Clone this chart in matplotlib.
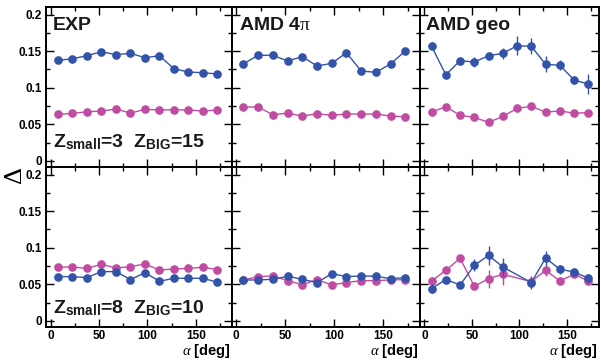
import numpy as np
import matplotlib
matplotlib.use("Agg")
import matplotlib.pyplot as plt
from matplotlib.ticker import MultipleLocator

plt.rcParams['font.family'] = ['Liberation Sans', 'DejaVu Sans']
plt.rcParams['mathtext.fontset'] = 'custom'
plt.rcParams['mathtext.rm'] = 'Liberation Serif'
plt.rcParams['mathtext.it'] = 'Liberation Serif:italic'
plt.rcParams['mathtext.bf'] = 'Liberation Sans:bold'

# bin centres in alpha [deg]
alpha = [7.5, 22.5, 37.5, 52.5, 67.5, 82.5, 97.5, 112.5, 127.5, 142.5, 157.5, 172.5]
alpha_geo_b = [7.5, 22.5, 37.5, 52.5, 67.5, 82.5, 112.5, 127.5, 142.5, 157.5, 172.5]

titles = ["EXP", r"AMD 4$\mathrm{\pi}$", "AMD geo"]
row_labels = [r"$\mathbf{Z}_{\mathbf{small}}$=3  $\mathbf{Z}_{\mathbf{BIG}}$=15",
              r"$\mathbf{Z}_{\mathbf{small}}$=8  $\mathbf{Z}_{\mathbf{BIG}}$=10"]

# top row: Zsmall=3, ZBIG=15
exp_t_blue = [0.1375, 0.1397, 0.1438, 0.1493, 0.1452, 0.1471, 0.1411, 0.1438, 0.126, 0.1215, 0.1205, 0.1188]
exp_t_blue_err = [0.002, 0.002, 0.002, 0.002, 0.004, 0.005, 0.004, 0.002, 0.002, 0.002, 0.002, 0.002]
exp_t_mag = [0.0636, 0.0649, 0.0671, 0.0681, 0.0708, 0.0653, 0.0704, 0.0695, 0.0699, 0.0695, 0.0681, 0.0695]
exp_t_mag_err = [0.001] * 12

amd_t_blue = [0.1329, 0.1444, 0.1444, 0.1366, 0.1425, 0.1297, 0.1334, 0.1479, 0.1229, 0.1211, 0.1325, 0.1503]
amd_t_blue_err = [0.001] * 12
amd_t_mag = [0.0736, 0.0736, 0.063, 0.0653, 0.0612, 0.0644, 0.0622, 0.064, 0.064, 0.064, 0.0612, 0.0603]
amd_t_mag_err = [0.001] * 12

geo_t_blue = [0.1567, 0.1178, 0.137, 0.1352, 0.1438, 0.1471, 0.1575, 0.1567, 0.132, 0.1307, 0.1105, 0.1051]
geo_t_blue_err = [0.002, 0.003, 0.003, 0.0064, 0.004, 0.0075, 0.013, 0.011, 0.011, 0.007, 0.006, 0.014]
geo_t_mag = [0.0667, 0.074, 0.0622, 0.0594, 0.0526, 0.0608, 0.0718, 0.0745, 0.0667, 0.0681, 0.0653, 0.0658]
geo_t_mag_err = [0.002, 0.002, 0.002, 0.002, 0.002, 0.002, 0.002, 0.002, 0.002, 0.002, 0.002, 0.003]

# bottom row: Zsmall=8, ZBIG=10
exp_b_blue = [0.0605, 0.0605, 0.0591, 0.0673, 0.0673, 0.0564, 0.0659, 0.0541, 0.0582, 0.0582, 0.0582, 0.0527]
exp_b_blue_err = [0.002, 0.002, 0.002, 0.002, 0.002, 0.004, 0.003, 0.002, 0.002, 0.002, 0.002, 0.002]
exp_b_mag = [0.0736, 0.0736, 0.0718, 0.0773, 0.0723, 0.0741, 0.0777, 0.0695, 0.0709, 0.0718, 0.0732, 0.07]
exp_b_mag_err = [0.001] * 12

amd_b_blue = [0.0559, 0.0559, 0.0568, 0.0609, 0.0568, 0.0523, 0.0645, 0.0605, 0.0614, 0.0609, 0.0577, 0.0591]
amd_b_blue_err = [0.001] * 12
amd_b_mag = [0.0559, 0.0605, 0.0614, 0.055, 0.0495, 0.0564, 0.0491, 0.0523, 0.055, 0.055, 0.0559, 0.0564]
amd_b_mag_err = [0.001] * 12

geo_b_blue = [0.0441, 0.0564, 0.0491, 0.0759, 0.0895, 0.0736, 0.0523, 0.0859, 0.0705, 0.0668, 0.0582]
geo_b_blue_err = [0.006, 0.003, 0.004, 0.008, 0.0125, 0.0125, 0.009, 0.010, 0.006, 0.003, 0.006]
geo_b_mag = [0.0545, 0.0691, 0.0855, 0.0473, 0.0577, 0.0636, 0.0536, 0.0691, 0.0545, 0.0636, 0.0545]
geo_b_mag_err = [0.002, 0.002, 0.002, 0.004, 0.0125, 0.015, 0.003, 0.008, 0.002, 0.003, 0.002]

panels = [
    [(alpha, exp_t_blue, exp_t_blue_err, exp_t_mag, exp_t_mag_err),
     (alpha, amd_t_blue, amd_t_blue_err, amd_t_mag, amd_t_mag_err),
     (alpha, geo_t_blue, geo_t_blue_err, geo_t_mag, geo_t_mag_err)],
    [(alpha, exp_b_blue, exp_b_blue_err, exp_b_mag, exp_b_mag_err),
     (alpha, amd_b_blue, amd_b_blue_err, amd_b_mag, amd_b_mag_err),
     (alpha_geo_b, geo_b_blue, geo_b_blue_err, geo_b_mag, geo_b_mag_err)],
]

BLUE = "#3353a8"
MAG = "#c04ca2"

W, H = 601, 360
fig = plt.figure(figsize=(W / 100, H / 100), dpi=100)
col_px = [(46, 232), (232, 420), (420, 599)]
row_px = [(7, 167), (167, 327)]
xlims = [(-4.8, 187.5), (-4.2, 187.5), (-4.7, 183.7)]

for r in range(2):
    for c in range(3):
        x0, x1 = col_px[c]
        y0, y1 = row_px[r]
        ax = fig.add_axes([x0 / W, 1 - y1 / H, (x1 - x0) / W, (y1 - y0) / H])
        x, b, be, m, me = panels[r][c]
        ax.errorbar(x, m, yerr=me, color=MAG, marker='o', ms=5.2, lw=1.0,
                    elinewidth=1.0, capsize=0, zorder=3)
        ax.errorbar(x, b, yerr=be, color=BLUE, marker='o', ms=5.2, lw=1.0,
                    elinewidth=1.0, capsize=0, zorder=4)
        ax.set_xlim(*xlims[c])
        ax.set_ylim(-0.0085, 0.2105)
        ax.xaxis.set_major_locator(MultipleLocator(50))
        ax.xaxis.set_minor_locator(MultipleLocator(25))
        ax.yaxis.set_major_locator(MultipleLocator(0.05))
        ax.yaxis.set_minor_locator(MultipleLocator(0.025))
        ax.tick_params(which='both', direction='in', top=True, right=True, width=1.0)
        ax.tick_params(which='major', length=5.5)
        ax.tick_params(which='minor', length=3)
        for s in ax.spines.values():
            s.set_linewidth(1.4)
        if c == 0:
            ax.set_yticklabels([f"{v:g}" for v in ax.get_yticks()])
            ax.tick_params(axis='y', labelsize=8.5, pad=3)
            for t in ax.get_yticklabels():
                t.set_fontweight('bold')
        else:
            ax.set_yticklabels([])
        if r == 1:
            ax.tick_params(axis='x', labelsize=8.5, pad=2)
            for t in ax.get_xticklabels():
                t.set_fontweight('bold')
            ax.text(0.99, -0.175, r"$\alpha$ [deg]", transform=ax.transAxes,
                    ha='right', va='baseline', fontsize=10.5, fontweight='bold')
        else:
            ax.set_xticklabels([])
        if r == 0:
            ax.text(0.035, 0.935, titles[c], transform=ax.transAxes, ha='left',
                    va='top', fontsize=14, fontweight='bold', color='#1a1a1a')
        if c == 0:
            ax.text(0.035, 0.125 if r == 0 else 0.088, row_labels[r],
                    transform=ax.transAxes, ha='left', va='baseline',
                    fontsize=14, fontweight='bold', color='#1a1a1a')

fig.text(15 / W, 1 - 176 / H, r"$\Delta$", rotation=90, ha='center', va='center',
         fontsize=19)

fig.savefig("out.png", dpi=100)
